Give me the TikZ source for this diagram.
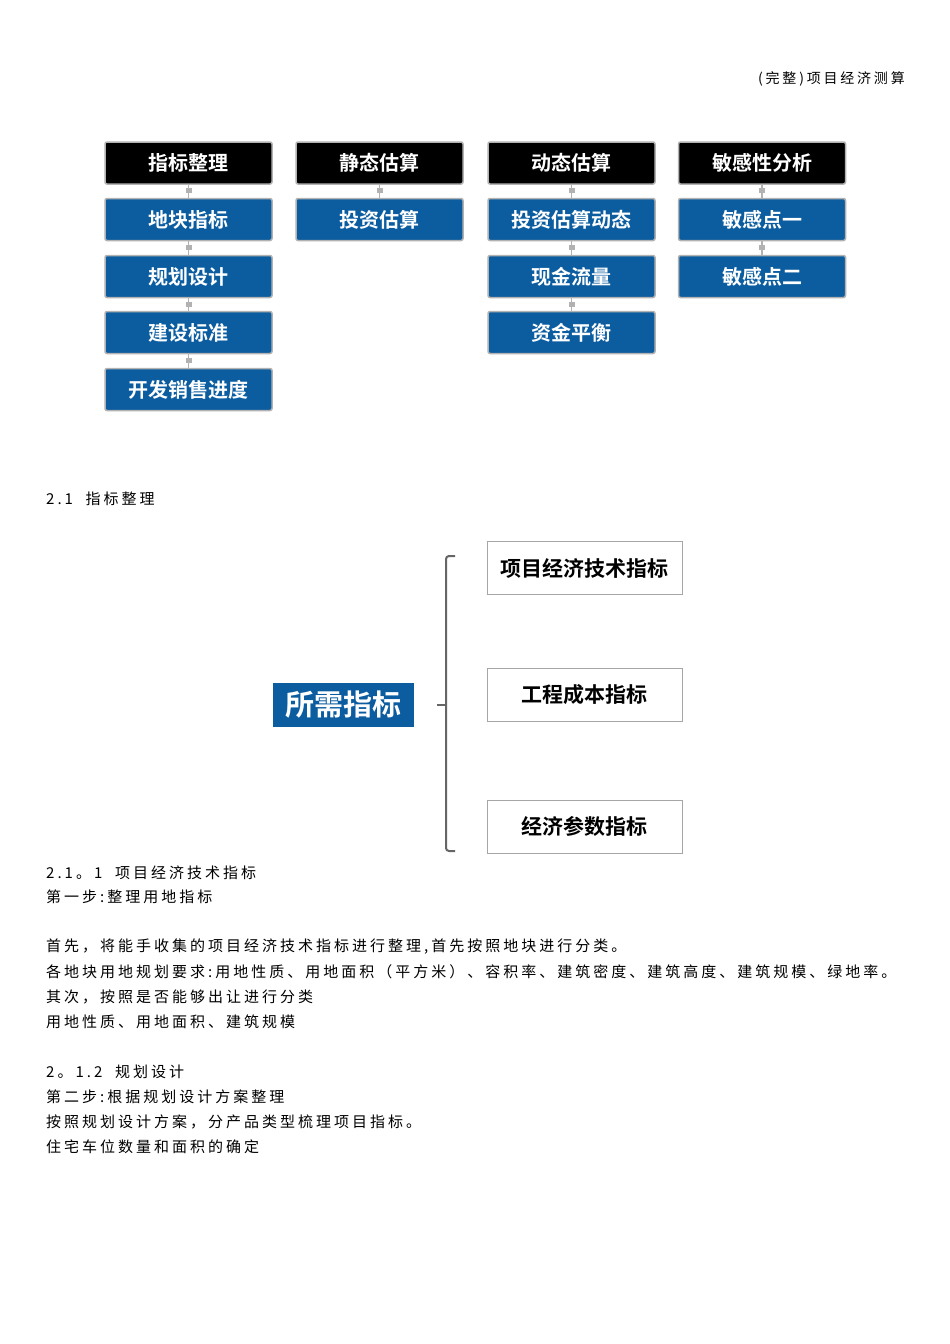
\documentclass[tikz,border=0pt]{standalone}
\usepackage{fontspec}
\usetikzlibrary{calc}
\setmainfont{Noto Sans CJK SC}
\newfontfamily\cjkb{Noto Sans CJK SC Bold}
\newfontfamily\cjkw[LetterSpace=20]{Noto Sans CJK SC}
\begin{document}
\begin{tikzpicture}[x=1pt,y=-1pt,
 hdr/.style={draw=gray!60,line width=1.5pt,rounded corners=2pt,fill=black,text=white,font=\cjkb\fontsize{20}{20}\selectfont,minimum width=167,minimum height=42,inner sep=0},
 blu/.style={hdr,fill={rgb,255:red,12;green,93;blue,160}},
 wbox/.style={draw=gray!70,line width=1pt,fill=white,font=\cjkb\fontsize{21}{21}\selectfont,minimum width=195,minimum height=53,inner sep=0},
 con/.style={draw=gray!60,line width=1.5pt},
 txt/.style={anchor=west,inner sep=0,font=\cjkw\fontsize{15}{15}\selectfont}]
\useasboundingbox (0,0) rectangle (950,1344);
\fill[white] (0,0) rectangle (950,1344);
\node[anchor=east,inner sep=0,font=\cjkw\fontsize{14}{14}\selectfont] (h) at (905,79) {(完整)项目经济测算};
\node[hdr] (a1) at (188.5,163) {指标整理};
\node[blu] (a2) at (188.5,219.5) {地块指标};
\node[blu] (a3) at (188.5,276.5) {规划设计};
\node[blu] (a4) at (188.5,332.5) {建设标准};
\node[blu] (a5) at (188.5,389.5) {开发销售进度};
\node[hdr] (b1) at (379.5,163) {静态估算};
\node[blu] (b2) at (379.5,219.5) {投资估算};
\node[hdr] (c1) at (571.5,163) {动态估算};
\node[blu] (c2) at (571.5,219.5) {投资估算动态};
\node[blu] (c3) at (571.5,276.5) {现金流量};
\node[blu] (c4) at (571.5,332.5) {资金平衡};
\node[hdr] (d1) at (762,163) {敏感性分析};
\node[blu] (d2) at (762,219.5) {敏感点一};
\node[blu] (d3) at (762,276.5) {敏感点二};
\foreach \u/\v in {a1/a2,a2/a3,a3/a4,a4/a5,b1/b2,c1/c2,c2/c3,c3/c4,d1/d2,d2/d3}{
 \draw[con] (\u.south) -- (\v.north);
 \fill[gray!60] ($(\u.south)!0.5!(\v.north)$) ++(-3,-3) rectangle ++(6,5);}
\node[txt] (s1) at (46,499) {2.1\ \ 指标整理};
\node[fill={rgb,255:red,12;green,93;blue,160},text=white,font=\cjkb\fontsize{29}{29}\selectfont,minimum width=141,minimum height=44,inner sep=0] (m) at (343.5,705) {所需指标};
\node[wbox] (r1) at (584.5,568) {项目经济技术指标};
\node[wbox] (r2) at (584.5,694.5) {工程成本指标};
\node[wbox] (r3) at (584.5,826.5) {经济参数指标};
\coordinate (bt) at (446,556);
\coordinate (bb) at (446,851);
\coordinate (bm) at (446,705);
\draw[gray!80!black,line width=2pt,rounded corners=3pt] ([xshift=9]bt) -- (bt) -- (bb) -- ([xshift=9]bb);
\draw[gray!80!black,line width=2pt] (bm) -- ([xshift=-9]bm);
\node[txt] at (46,873) {2.1。1\ \ 项目经济技术指标};
\node[txt] at (46,897) {第一步:整理用地指标};
\node[txt] at (46,947) {首先，将能手收集的项目经济技术指标进行整理,首先按照地块进行分类。};
\node[txt] at (46,972) {各地块用地规划要求:用地性质、用地面积（平方米）、容积率、建筑密度、建筑高度、建筑规模、绿地率。};
\node[txt] at (46,997) {其次，按照是否能够出让进行分类};
\node[txt] at (46,1022) {用地性质、用地面积、建筑规模};
\node[txt] at (46,1072) {2。1.2\ \ 规划设计};
\node[txt] at (46,1097) {第二步:根据规划设计方案整理};
\node[txt] at (46,1122) {按照规划设计方案，分产品类型梳理项目指标。};
\node[txt] at (46,1147) {住宅车位数量和面积的确定};
\end{tikzpicture}
\end{document}
